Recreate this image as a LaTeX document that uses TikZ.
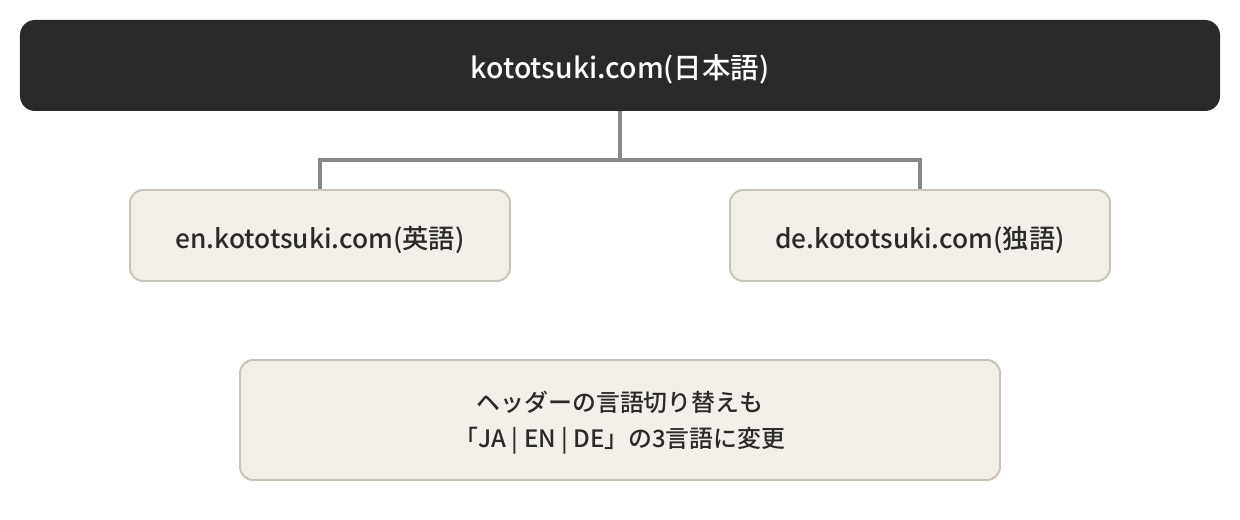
\documentclass[tikz,border=0pt]{standalone}
\usepackage{fontspec}
\setmainfont{Noto Sans CJK JP}[UprightFont={* Medium}]
\usetikzlibrary{backgrounds,shapes}
\pgfdeclarelayer{edgelayer}
\pgfdeclarelayer{nodelayer}
\pgfsetlayers{edgelayer,nodelayer,main}
\definecolor{rootfill}{HTML}{2A2A2A}
\definecolor{leaffill}{HTML}{F3F0EA}
\definecolor{leafline}{HTML}{C9C4B5}
\definecolor{wire}{HTML}{888888}
\definecolor{ink}{HTML}{2A2A2A}
\tikzstyle{none}=[inner sep=0pt]
\tikzstyle{root}=[rectangle,rounded corners=0.375cm,fill=rootfill,text=white,minimum width=30cm,minimum height=2.275cm,font=\fontsize{20.2}{24}\selectfont,text height=18.2pt,text depth=0pt]
\tikzstyle{leaf}=[rectangle,rounded corners=0.33cm,fill=leaffill,draw=leafline,line width=1.4pt,text=ink,minimum width=9.5cm,minimum height=2.275cm,font=\fontsize{18.7}{22}\selectfont,text height=18.3pt,text depth=0pt]
\tikzstyle{note}=[leaf,minimum width=19cm,minimum height=3cm,align=center,font=\fontsize{17}{25.6}\selectfont,text height=39.2pt,text depth=0pt]
\tikzstyle{wire}=[draw=wire,line width=2.8pt]

\begin{document}
\begin{tikzpicture}
	\useasboundingbox (0,0) rectangle (31,-13);
	\begin{pgfonlayer}{nodelayer}
		\node [style=root] (0) at (15.5, -1.6375) {kototsuki.com(日本語)};
		\node [style=leaf] (1) at (8, -5.8875) {en.kototsuki.com(英語)};
		\node [style=leaf] (2) at (23, -5.8875) {de.kototsuki.com(独語)};
		\node [style=note] (3) at (15.5, -10.5) {ヘッダーの言語切り替えも\\「JA | EN | DE」の3言語に変更};
		\coordinate (4) at (15.5, -4.0);
	\end{pgfonlayer}
	\begin{pgfonlayer}{edgelayer}
		\draw[style=wire] (0.south) to (4);
		\draw[style=wire] (4) -| (1.north);
		\draw[style=wire] (4) -| (2.north);
	\end{pgfonlayer}
\end{tikzpicture}
\end{document}
